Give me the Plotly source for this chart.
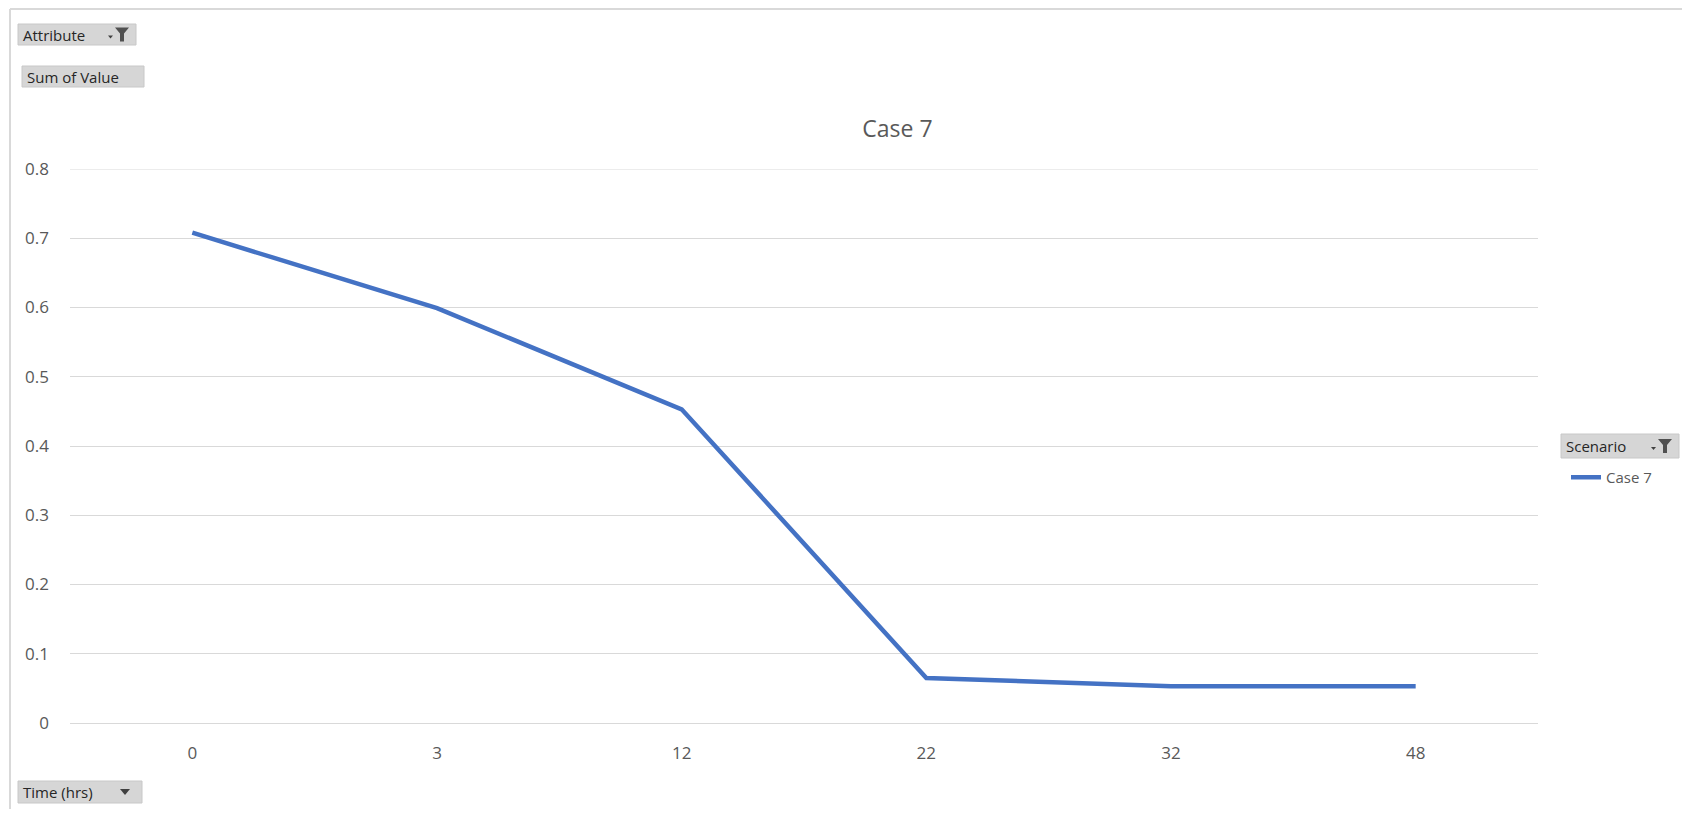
import plotly.graph_objects as go

# the page body has an 8px margin, so the figure is drawn 8px in from the window edge
OFF = 8
W, H = 1690 - 2 * OFF, 817 - 2 * OFF
# plot area in window pixels
PL, PR, PT, PB = 70, 1538, 169, 723

time_hrs = ["0", "3", "12", "22", "32", "48"]
case7_values = [0.708, 0.599, 0.453, 0.065, 0.053, 0.053]
y_ticks = [0, 0.1, 0.2, 0.3, 0.4, 0.5, 0.6, 0.7, 0.8]
y_tick_text = ["0", "0.1", "0.2", "0.3", "0.4", "0.5", "0.6", "0.7", "0.8"]

FONT = "Open Sans, Noto Sans, sans-serif"
GREY = "#595959"
BLUE = "#4472C4"


def px(x):
    return (x - PL) / (PR - PL)


def py(y):
    return (PB - y) / (PB - PT)


fig = go.Figure()
fig.add_trace(go.Scatter(
    x=time_hrs, y=case7_values, mode="lines", name="Case 7",
    line=dict(color=BLUE, width=4.5),
))

shapes = [
    # outer chart border (top + left)
    dict(type="line", xref="paper", yref="paper", x0=px(10), x1=px(1690), y0=py(OFF + 1), y1=py(OFF + 1),
         line=dict(color="#d9d9d9", width=2)),
    dict(type="line", xref="paper", yref="paper", x0=px(10), x1=px(10), y0=py(OFF + 1), y1=py(H + OFF),
         line=dict(color="#d9d9d9", width=2)),
    # top gridline at 0.8
    dict(type="line", xref="paper", yref="y", x0=0, x1=1, y0=y_ticks[-1], y1=y_ticks[-1],
         line=dict(color="#d9d9d9", width=1), layer="below"),
]
annotations = []


def button(x0, y0, x1, y1, label, icon, size=16):
    shapes.append(dict(type="rect", xref="paper", yref="paper",
                       x0=px(x0), x1=px(x1), y0=py(y0), y1=py(y1),
                       fillcolor="#d6d6d6", line=dict(color="#c8c8c8", width=1), layer="above"))
    annotations.append(dict(xref="paper", yref="paper", x=px(x0 + 3), y=py((y0 + y1) / 2),
                            xanchor="left", yanchor="middle", showarrow=False, text=label,
                            font=dict(family=FONT, size=size, color="#262626")))
    cy = (y0 + y1) / 2
    if icon == "filter":
        # small dropdown arrow + funnel
        fx = x1 - 22
        shapes.append(dict(type="path", xref="paper", yref="paper",
                           path=f"M {px(fx-6)},{py(cy+1)} L {px(fx-1)},{py(cy+1)} L {px(fx-3.5)},{py(cy+4)} Z",
                           fillcolor="#404040", line=dict(width=0), layer="above"))
        shapes.append(dict(type="path", xref="paper", yref="paper",
                           path=(f"M {px(fx+1)},{py(cy-7)} L {px(fx+15)},{py(cy-7)} L {px(fx+10)},{py(cy-1)} "
                                 f"L {px(fx+10)},{py(cy+7)} L {px(fx+6)},{py(cy+7)} L {px(fx+6)},{py(cy-1)} Z"),
                           fillcolor="#505050", line=dict(width=0), layer="above"))
    elif icon == "arrow":
        fx = x1 - 17
        shapes.append(dict(type="path", xref="paper", yref="paper",
                           path=f"M {px(fx-5)},{py(cy-3)} L {px(fx+5)},{py(cy-3)} L {px(fx)},{py(cy+3)} Z",
                           fillcolor="#404040", line=dict(width=0), layer="above"))


button(18, 24, 136, 45, "Attribute", "filter", 15)
button(22, 66, 144, 87, "Sum of Value", None, 15)
button(18, 781, 142, 803, "Time (hrs)", "arrow", 15)
button(1561, 434, 1679, 458, "Scenario", "filter", 15)

fig.update_layout(
    width=W, height=H,
    margin=dict(l=PL - OFF, r=(W + OFF) - PR, t=PT - OFF, b=(H + OFF) - PB, pad=0),
    paper_bgcolor="white", plot_bgcolor="white",
    title=dict(text="Case 7", x=px(850), xanchor="center", y=1 - (129 - OFF) / H, yanchor="middle",
               font=dict(family=FONT, size=23, color=GREY)),
    font=dict(family=FONT, size=16, color=GREY),
    xaxis=dict(type="category", range=[-0.5, len(time_hrs) - 0.5], showgrid=False, showline=False,
               zeroline=False, ticks="", tickfont=dict(size=17, color=GREY), ticklabelstandoff=18),
    yaxis=dict(range=[0, 0.8], tickvals=y_ticks, ticktext=y_tick_text,
               showgrid=True, gridcolor="#d9d9d9", gridwidth=1, zeroline=True, zerolinecolor="#d9d9d9",
               zerolinewidth=1, showline=False, ticks="", tickfont=dict(size=17, color=GREY),
               ticklabelstandoff=20),
    showlegend=True,
    legend=dict(x=px(1566), y=py(461), xanchor="left", yanchor="top", bgcolor="rgba(0,0,0,0)",
                font=dict(family=FONT, size=15, color=GREY), itemwidth=30, tracegroupgap=0),
    shapes=shapes,
    annotations=annotations,
)

fig.write_html("out.html")
